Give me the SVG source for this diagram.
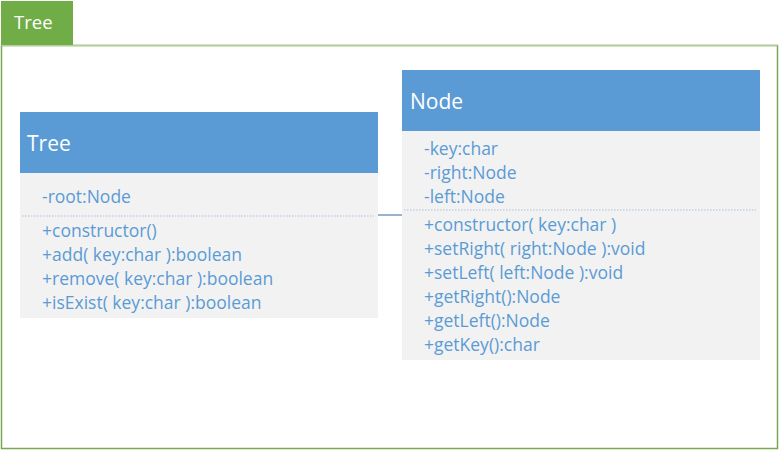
<svg xmlns="http://www.w3.org/2000/svg" width="780" height="450" viewBox="0 0 780 450">
<style>
.hdr{fill:#5b9bd5}
.body{fill:#f2f2f2}
.title{font-family:"Open Sans","Liberation Sans",sans-serif;font-size:21px;fill:#ffffff}
.mem{font-family:"Open Sans","Liberation Sans",sans-serif;font-size:17.5px;fill:#5b9bd5}
.sep{stroke:#a9bfd6;stroke-width:1.2;stroke-dasharray:1.5 1.5}
.conn{stroke:#5a7fa3;stroke-width:1.2;fill:none}
</style>
<rect x="0" y="0" width="780" height="450" fill="#ffffff"/>
<g id="frame">
<rect x="1.5" y="45.5" width="776" height="403" fill="none" stroke="#7aa84e" stroke-width="1.5"/>
<line x1="1.5" y1="45.5" x2="777.5" y2="45.5" stroke="#b6cfa0" stroke-width="1.5"/>
<rect x="1" y="1" width="72" height="44" fill="#70ad47"/>
<text x="14" y="29" class="title" style="font-size:18.5px">Tree</text>
</g>
<g id="connectors">
<line x1="378" y1="215" x2="402" y2="215" class="conn"/>
</g>
<g id="tree-class">
<rect x="20" y="112" width="358" height="61" class="hdr"/>
<rect x="20" y="173" width="358" height="145" class="body"/>
<text x="27" y="151" class="title">Tree</text>
<text x="42" y="203" class="mem">-root:Node</text>
<line x1="22" y1="216" x2="374" y2="216" class="sep"/>
<text x="42" y="237" class="mem">+constructor()</text>
<text x="42" y="261" class="mem">+add( key:char ):boolean</text>
<text x="42" y="285" class="mem">+remove( key:char ):boolean</text>
<text x="42" y="309" class="mem">+isExist( key:char ):boolean</text>
</g>
<g id="node-class">
<rect x="402" y="70" width="358" height="61" class="hdr"/>
<rect x="402" y="131" width="358" height="229" class="body"/>
<text x="410" y="109" class="title">Node</text>
<text x="424" y="155" class="mem">-key:char</text>
<text x="424" y="179" class="mem">-right:Node</text>
<text x="424" y="203" class="mem">-left:Node</text>
<line x1="404" y1="210" x2="756" y2="210" class="sep"/>
<text x="424" y="231" class="mem">+constructor( key:char )</text>
<text x="424" y="255" class="mem">+setRight( right:Node ):void</text>
<text x="424" y="279" class="mem">+setLeft( left:Node ):void</text>
<text x="424" y="303" class="mem">+getRight():Node</text>
<text x="424" y="327" class="mem">+getLeft():Node</text>
<text x="424" y="351" class="mem">+getKey():char</text>
</g>
</svg>
